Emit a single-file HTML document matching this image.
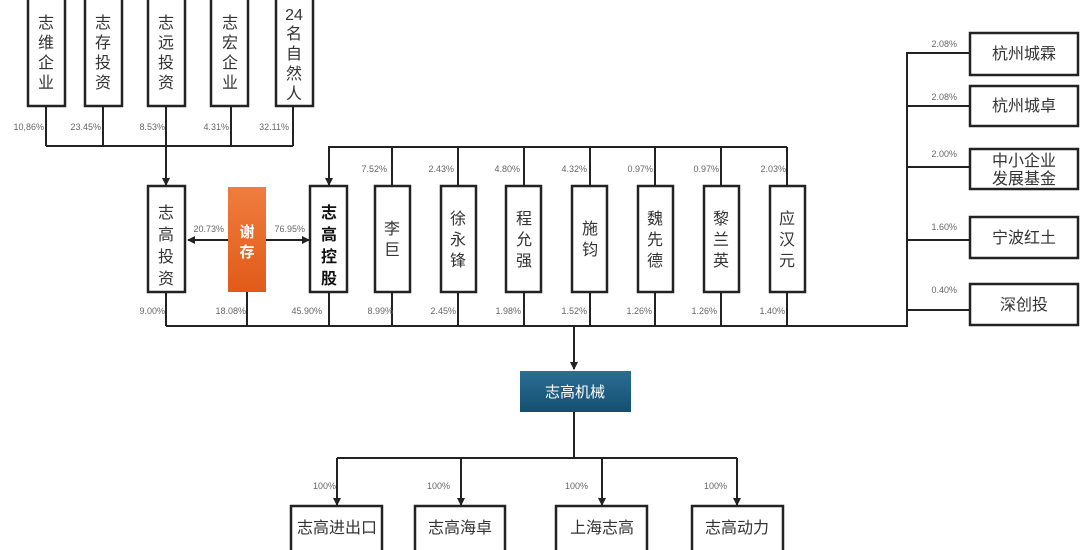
<!DOCTYPE html>
<html><head><meta charset="utf-8"><style>
body{margin:0;background:#fff;}
svg{display:block;font-family:"Liberation Sans","Noto Sans CJK SC",sans-serif;}
.b{fill:#fff;stroke:#222;stroke-width:2.5;}
.l{stroke:#222;stroke-width:2;fill:none;}
.p{font-size:9px;fill:#666;}
.t{font-size:16px;fill:#333;}
</style></head><body>
<svg width="1080" height="550" viewBox="0 0 1080 550">
<defs>
<marker id="a" markerWidth="8" markerHeight="8" refX="7" refY="4" orient="auto" markerUnits="userSpaceOnUse"><path d="M0,0 L8,4 L0,8 Z" fill="#222"/></marker>
<linearGradient id="og" x1="0" y1="0" x2="0" y2="1"><stop offset="0" stop-color="#ef7d3e"/><stop offset="1" stop-color="#e15a1a"/></linearGradient>
<linearGradient id="bg" x1="0" y1="0" x2="0" y2="1"><stop offset="0" stop-color="#2a6e94"/><stop offset="1" stop-color="#154f70"/></linearGradient>
</defs>
<g class="l">
<path d="M46 106V146M103 106V146M166 106V146M231 106V146M293 106V146M46 146H293"/>
<path d="M166 146V185" marker-end="url(#a)"/>
<path d="M228 240H188" marker-end="url(#a)"/>
<path d="M266 240H309" marker-end="url(#a)"/>
<path d="M787 147H329V185" marker-end="url(#a)"/>
<path d="M392 147V186M458 147V186M524 147V186M590 147V186M655 147V186M721 147V186M787 147V186"/>
<path d="M166 292V326M247 292V326M329 292V326M392 292V326M458 292V326M524 292V326M590 292V326M655 292V326M721 292V326M787 292V326M166 326H907V53H970M907 106H970M907 167H970M907 240H970M907 310H970"/>
<path d="M574 326V369" marker-end="url(#a)"/>
<path d="M574 412V458M337 458H737"/>
<path d="M337 458V505" marker-end="url(#a)"/>
<path d="M461 458V505" marker-end="url(#a)"/>
<path d="M602 458V505" marker-end="url(#a)"/>
<path d="M737 458V505" marker-end="url(#a)"/>
</g>
<rect class="b" x="28" y="-2" width="37" height="108"/>
<rect class="b" x="85" y="-2" width="37" height="108"/>
<rect class="b" x="148" y="-2" width="37" height="108"/>
<rect class="b" x="211" y="-2" width="37" height="108"/>
<rect class="b" x="276" y="-2" width="37" height="108"/>
<g class="t" text-anchor="middle">
<text x="46" y="28">志</text><text x="46" y="48">维</text><text x="46" y="68">企</text><text x="46" y="88">业</text>
<text x="103" y="28">志</text><text x="103" y="48">存</text><text x="103" y="68">投</text><text x="103" y="88">资</text>
<text x="166" y="28">志</text><text x="166" y="48">远</text><text x="166" y="68">投</text><text x="166" y="88">资</text>
<text x="230" y="28">志</text><text x="230" y="48">宏</text><text x="230" y="68">企</text><text x="230" y="88">业</text>
<text x="294" y="20">24</text><text x="294" y="39">名</text><text x="294" y="59">自</text><text x="294" y="79">然</text><text x="294" y="99">人</text>
</g>
<g class="p" text-anchor="end">
<text x="44" y="130">10,86%</text><text x="101" y="130">23.45%</text><text x="165" y="130">8.53%</text><text x="229" y="130">4.31%</text><text x="289" y="130">32.11%</text>
<text x="224" y="232">20.73%</text><text x="305" y="232">76.95%</text>
<text x="165" y="314">9.00%</text><text x="246" y="314">18.08%</text><text x="322" y="314">45.90%</text>
<text x="387" y="172">7.52%</text><text x="454" y="172">2.43%</text><text x="520" y="172">4.80%</text><text x="587" y="172">4.32%</text><text x="653" y="172">0.97%</text><text x="719" y="172">0.97%</text><text x="786" y="172">2.03%</text>
<text x="393" y="314">8.99%</text><text x="456" y="314">2.45%</text><text x="521" y="314">1.98%</text><text x="587" y="314">1.52%</text><text x="652" y="314">1.26%</text><text x="717" y="314">1.26%</text><text x="785" y="314">1.40%</text>
<text x="957" y="47">2.08%</text><text x="957" y="100">2.08%</text><text x="957" y="157">2.00%</text><text x="957" y="230">1.60%</text><text x="957" y="293">0.40%</text>
<text x="336" y="489">100%</text><text x="450" y="489">100%</text><text x="588" y="489">100%</text><text x="727" y="489">100%</text>
</g>
<rect class="b" x="148" y="186" width="37" height="106"/>
<rect x="228" y="187" width="38" height="105" fill="url(#og)"/>
<rect class="b" x="310" y="186" width="37" height="106"/>
<g text-anchor="middle">
<g class="t"><text x="166" y="218">志</text><text x="166" y="240">高</text><text x="166" y="262">投</text><text x="166" y="284">资</text></g>
<text x="247" y="237" font-size="15" fill="#fff" font-weight="bold">谢</text><text x="247" y="257" font-size="15" fill="#fff" font-weight="bold">存</text>
<g font-size="16" fill="#111" font-weight="bold"><text x="329" y="218">志</text><text x="329" y="240">高</text><text x="329" y="262">控</text><text x="329" y="284">股</text></g>
</g>
<g class="b">
<rect x="375" y="186" width="35" height="106"/><rect x="441" y="186" width="35" height="106"/><rect x="506" y="186" width="35" height="106"/><rect x="572" y="186" width="35" height="106"/><rect x="638" y="186" width="35" height="106"/><rect x="704" y="186" width="35" height="106"/><rect x="770" y="186" width="35" height="106"/>
</g>
<g class="t" text-anchor="middle">
<text x="392" y="234">李</text><text x="392" y="255">巨</text>
<text x="458" y="224">徐</text><text x="458" y="245">永</text><text x="458" y="266">锋</text>
<text x="524" y="224">程</text><text x="524" y="245">允</text><text x="524" y="266">强</text>
<text x="590" y="234">施</text><text x="590" y="255">钧</text>
<text x="655" y="224">魏</text><text x="655" y="245">先</text><text x="655" y="266">德</text>
<text x="721" y="224">黎</text><text x="721" y="245">兰</text><text x="721" y="266">英</text>
<text x="787" y="224">应</text><text x="787" y="245">汉</text><text x="787" y="266">元</text>
</g>
<g class="b">
<rect x="970" y="33" width="108" height="42"/><rect x="970" y="86" width="108" height="40"/><rect x="970" y="149" width="108" height="40"/><rect x="970" y="217" width="108" height="41"/><rect x="970" y="284" width="108" height="41"/>
</g>
<g class="t" text-anchor="middle">
<text x="1024" y="59">杭州城霖</text><text x="1024" y="111">杭州城卓</text><text x="1024" y="166">中小企业</text><text x="1024" y="184">发展基金</text><text x="1024" y="243">宁波红土</text><text x="1024" y="310">深创投</text>
</g>
<rect x="520" y="371" width="111" height="41" fill="url(#bg)"/>
<text x="575" y="397" text-anchor="middle" font-size="15" fill="#fff">志高机械</text>
<g class="b">
<rect x="291" y="506" width="91" height="46"/><rect x="415" y="506" width="90" height="46"/><rect x="556" y="506" width="91" height="46"/><rect x="692" y="506" width="91" height="46"/>
</g>
<g class="t" text-anchor="middle">
<text x="337" y="533">志高进出口</text><text x="460" y="533">志高海卓</text><text x="602" y="533">上海志高</text><text x="737" y="533">志高动力</text>
</g>
</svg>
</body></html>
